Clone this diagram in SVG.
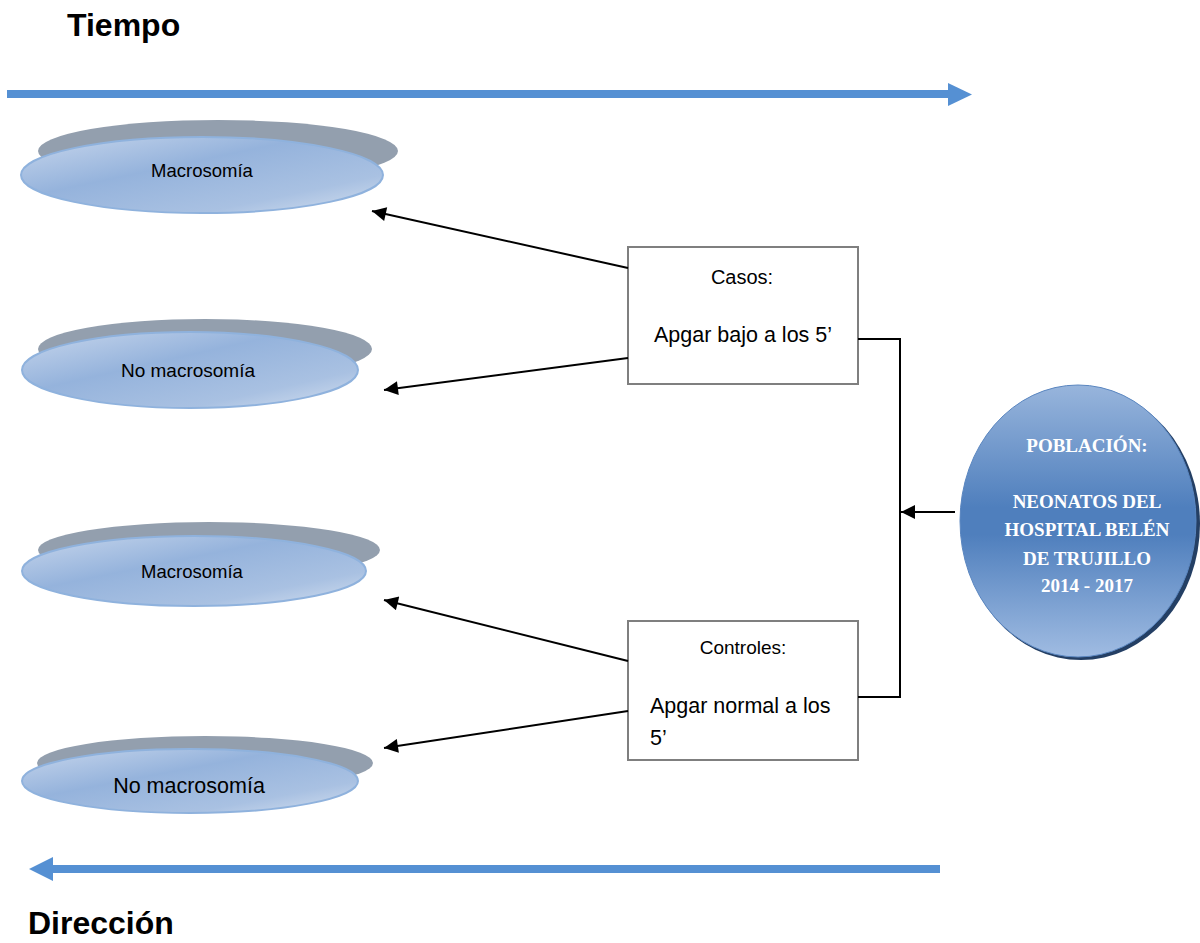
<svg xmlns="http://www.w3.org/2000/svg" width="1200" height="943" viewBox="0 0 1200 943">
<defs>
<linearGradient id="eg" x1="0" y1="0" x2="1" y2="1">
<stop offset="0" stop-color="#c7d6ec"/>
<stop offset="0.4" stop-color="#95b3dc"/>
<stop offset="0.75" stop-color="#a9c1e2"/>
<stop offset="1" stop-color="#d6e1f0"/>
</linearGradient>
<linearGradient id="pg" x1="0" y1="0" x2="0" y2="1">
<stop offset="0" stop-color="#98b5dc"/>
<stop offset="0.45" stop-color="#4f7fbd"/>
<stop offset="0.55" stop-color="#4f7fbd"/>
<stop offset="1" stop-color="#a0bce2"/>
</linearGradient>
<marker id="ah2" viewBox="0 0 10 10" refX="10" refY="5" markerWidth="16" markerHeight="14" orient="auto" markerUnits="userSpaceOnUse">
<path d="M0,0 L10,5 L0,10 z" fill="#000"/>
</marker>
</defs>
<style>
.shadow{fill:#939fae}
.ell{fill:url(#eg);stroke:#8fb2dd;stroke-width:2}
.et{font-family:"Liberation Sans",Arial,sans-serif;fill:#000;text-anchor:middle}
.box{fill:#fff;stroke:#7f7f7f;stroke-width:2}
.bt{font-family:"Liberation Sans",Arial,sans-serif;fill:#000}
.conn{stroke:#000;stroke-width:2;fill:none}
.pt{font-family:"Liberation Serif","Times New Roman",serif;font-weight:bold;font-size:19px;fill:#fff;text-anchor:middle}
.title{font-family:"Liberation Sans",Arial,sans-serif;font-weight:bold;font-size:32px;fill:#000}
.big{fill:#5590d3}
</style>

<text class="title" x="67" y="36">Tiempo</text>
<text class="title" x="28" y="934">Dirección</text>

<g id="time-arrow">
<rect class="big" x="7" y="90" width="943" height="8"/>
<path class="big" d="M948,83 L972,94.5 L948,106 z"/>
</g>
<g id="direction-arrow">
<rect class="big" x="51" y="865" width="889" height="8"/>
<path class="big" d="M53,857 L29,869 L53,881 z"/>
</g>

<g id="e1">
<ellipse class="shadow" cx="218" cy="151" rx="180" ry="31"/>
<ellipse class="ell" cx="202" cy="175" rx="181" ry="38"/>
<text class="et" x="202" y="177" font-size="18.5">Macrosomía</text>
</g>
<g id="e2">
<ellipse class="shadow" cx="205" cy="349" rx="167" ry="30"/>
<ellipse class="ell" cx="190" cy="370" rx="168" ry="38"/>
<text class="et" x="188" y="377" font-size="19">No macrosomía</text>
</g>
<g id="e3">
<ellipse class="shadow" cx="209" cy="550" rx="171" ry="28"/>
<ellipse class="ell" cx="194" cy="571" rx="172" ry="35"/>
<text class="et" x="192" y="578" font-size="18.5">Macrosomía</text>
</g>
<g id="e4">
<ellipse class="shadow" cx="205" cy="763" rx="168" ry="27"/>
<ellipse class="ell" cx="190" cy="781" rx="168" ry="32"/>
<text class="et" x="189" y="793" font-size="21.5">No macrosomía</text>
</g>

<g id="casos">
<rect class="box" x="628" y="247" width="230" height="137"/>
<text class="bt" x="742" y="284" font-size="20" text-anchor="middle">Casos:</text>
<text class="bt" x="743" y="342" font-size="21.5" text-anchor="middle">Apgar bajo a los 5’</text>
</g>
<g id="controles">
<rect class="box" x="628" y="621" width="230" height="139"/>
<text class="bt" x="743" y="654" font-size="19" text-anchor="middle">Controles:</text>
<text class="bt" x="650" y="713" font-size="21.5">Apgar normal a los</text>
<text class="bt" x="650" y="745" font-size="21.5">5’</text>
</g>

<g id="poblacion">
<ellipse cx="1081" cy="524" rx="119" ry="136" fill="#243f64"/>
<ellipse cx="1078" cy="521" rx="118" ry="136" fill="url(#pg)" stroke="#5a86c0" stroke-width="1"/>
<text class="pt" x="1087" y="452">POBLACIÓN:</text>
<text class="pt" x="1087" y="508">NEONATOS DEL</text>
<text class="pt" x="1087" y="536">HOSPITAL BELÉN</text>
<text class="pt" x="1087" y="565">DE TRUJILLO</text>
<text class="pt" x="1087" y="592">2014 - 2017</text>
</g>

<g id="connectors">
<line class="conn" x1="628" y1="268" x2="372" y2="211" marker-end="url(#ah2)"/>
<line class="conn" x1="628" y1="358" x2="384" y2="390" marker-end="url(#ah2)"/>
<line class="conn" x1="628" y1="661" x2="384" y2="600" marker-end="url(#ah2)"/>
<line class="conn" x1="628" y1="711" x2="384" y2="748" marker-end="url(#ah2)"/>
<polyline class="conn" points="858,339 900,339 900,697 858,697"/>
<line class="conn" x1="955" y1="512" x2="901" y2="512" marker-end="url(#ah2)"/>
</g>
</svg>
